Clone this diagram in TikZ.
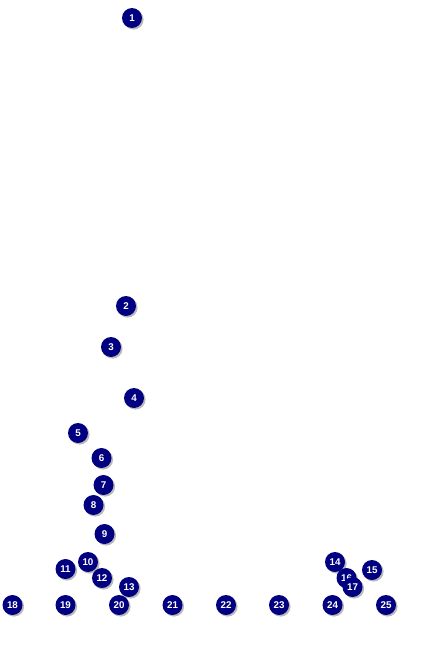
\documentclass[tikz,border=0pt]{standalone}
\usepackage{fontspec}
\setmainfont{Liberation Sans}
\usetikzlibrary{shadows}
\definecolor{navy}{RGB}{0,0,128}

\begin{document}
\begin{tikzpicture}[x=1pt, y=-1pt]
    \tikzstyle{marker} = [circle, fill=navy, minimum size=20pt, inner sep=0pt, text=white, font=\fontsize{9.8}{10}\selectfont\bfseries, drop shadow={shadow xshift=1.6pt, shadow yshift=-1.6pt, opacity=0.45, fill=black!60}]

    \useasboundingbox (0,0) rectangle (435,650);

    \node (m1) [marker] at (132,18) {1};
    \node (m2) [marker] at (126,306) {2};
    \node (m3) [marker] at (111,347) {3};
    \node (m4) [marker] at (134,398) {4};
    \node (m5) [marker] at (78,433) {5};
    \node (m6) [marker] at (101.5,458) {6};
    \node (m7) [marker] at (103.5,485) {7};
    \node (m8) [marker] at (93.5,505) {8};
    \node (m9) [marker] at (104.5,534) {9};
    \node (m10) [marker] at (88,562) {10};
    \node (m11) [marker] at (65.5,569) {11};
    \node (m12) [marker] at (102,578) {12};
    \node (m13) [marker] at (129,587) {13};
    \node (m14) [marker] at (335,562) {14};
    \node (m15) [marker] at (372,570) {15};
    \node (m16) [marker] at (346.5,578) {16};
    \node (m17) [marker] at (352.5,587) {17};
    \node (m18) [marker] at (12.5,605) {18};
    \node (m19) [marker] at (65.5,605) {19};
    \node (m20) [marker] at (119,605) {20};
    \node (m21) [marker] at (172.5,605) {21};
    \node (m22) [marker] at (226,605) {22};
    \node (m23) [marker] at (279,605) {23};
    \node (m24) [marker] at (332.5,605) {24};
    \node (m25) [marker] at (386,605) {25};
\end{tikzpicture}
\end{document}
